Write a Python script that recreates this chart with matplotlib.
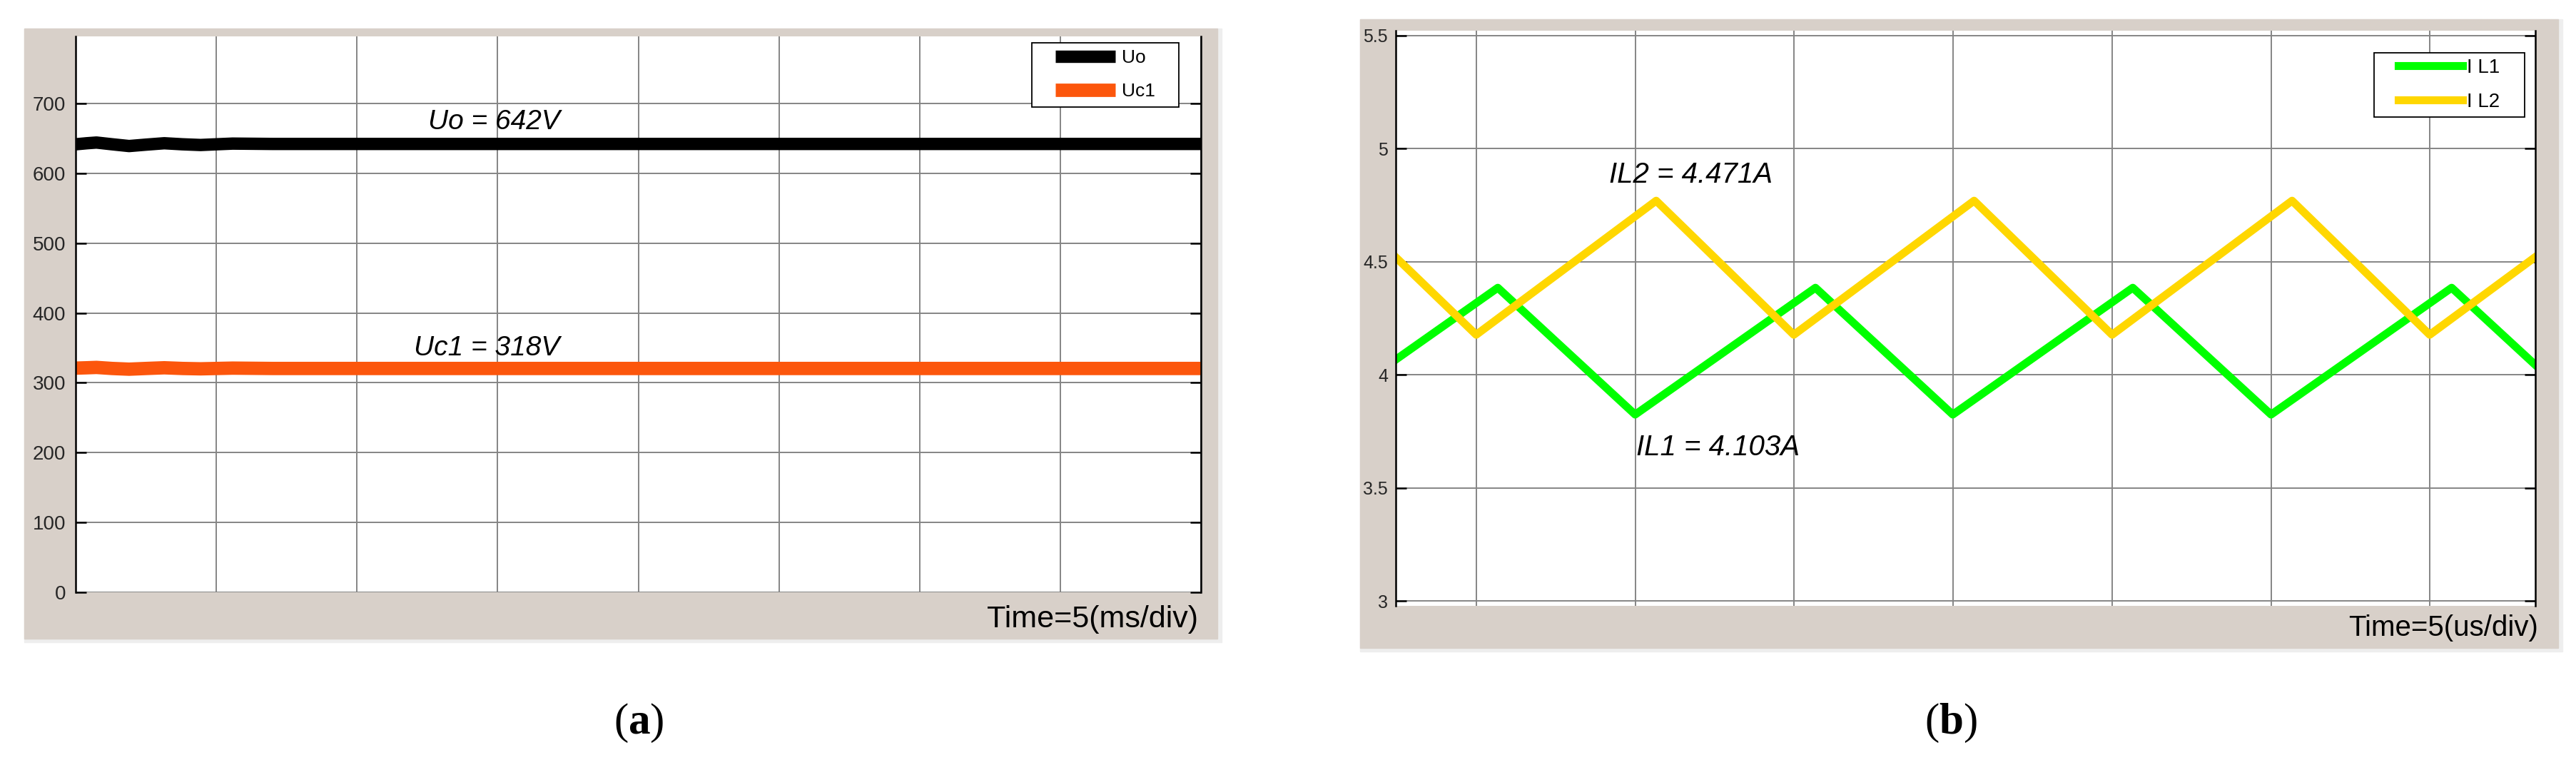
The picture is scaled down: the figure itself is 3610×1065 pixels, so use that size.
import numpy as np
import matplotlib
matplotlib.use('Agg')
import matplotlib.pyplot as plt
from matplotlib.patches import Rectangle
from matplotlib.lines import Line2D
from matplotlib.legend_handler import HandlerLine2D

plt.rcParams['font.family'] = 'Liberation Sans'
plt.rcParams['mathtext.fontset'] = 'custom'
plt.rcParams['mathtext.rm'] = 'Liberation Serif'
plt.rcParams['mathtext.bf'] = 'Liberation Serif:bold'

# (a) tensoes de saida e do capacitor, tempo em ms (5 ms/div)
t_a = [0, 0.4, 0.74, 1.3, 1.9, 2.5, 3.15, 3.8, 4.44, 5.0, 5.58, 7.0, 40]
uo = [641.5, 643, 644, 641.5, 639, 641, 643, 641.5, 640.5, 641.5, 642.5, 642, 642]
uc1 = [321, 321.5, 322, 320.5, 319.5, 320.5, 321.5, 320.5, 320, 320.5, 321, 320.5, 320.5]
yticks_a = [0, 100, 200, 300, 400, 500, 600, 700]
xgrid_a = [0, 5, 10, 15, 20, 25, 30, 35, 40]

# (b) correntes nos indutores, tempo em us (5 us/div)
t_il1 = [0, 3.21, 7.53, 13.2, 17.52, 23.18, 27.53, 33.21, 35.83]
il1 = [4.067, 4.385, 3.824, 4.385, 3.824, 4.385, 3.824, 4.385, 4.045]
t_il2 = [0, 2.53, 8.19, 12.52, 18.19, 22.53, 28.19, 32.52, 35.83]
il2 = [4.52, 4.177, 4.77, 4.177, 4.77, 4.177, 4.77, 4.177, 4.52]
yticks_b = [3, 3.5, 4, 4.5, 5, 5.5]
ylabels_b = ['3', '3.5', '4', '4.5', '5', '5.5']
xgrid_b = [2.53, 7.53, 12.53, 17.53, 22.53, 27.53, 32.53]

W, H = 3610, 1065
FRAME = '#D8D0C9'


def fx(px):
    return px / W


def fy(py):
    return 1 - py / H


def moldura(fig, x0, y0, x1, y1):
    # borda clara + fundo cinza tipo osciloscopio
    fig.patches.append(Rectangle((fx(x0), fy(y1 + 5)), (x1 + 6 - x0) / W, (y1 + 5 - y0) / H,
                                 transform=fig.transFigure, color='#EEEEEE', zorder=-2))
    fig.patches.append(Rectangle((fx(x0), fy(y1)), (x1 - x0) / W, (y1 - y0) / H,
                                 transform=fig.transFigure, color=FRAME, zorder=-1))


def estilo(ax, fs, pad):
    ax.set_facecolor('white')
    for s in ['top', 'bottom']:
        ax.spines[s].set_visible(False)
    for s in ['left', 'right']:
        ax.spines[s].set_linewidth(1.8)
        ax.spines[s].set_color('black')
    ax.tick_params(axis='y', direction='in', length=11, width=1.8, left=True, right=True,
                   labelcolor='#262626', labelsize=fs, pad=pad)
    ax.tick_params(axis='x', length=0, labelbottom=False)
    ax.grid(True, color='#858585', linewidth=1.4)
    ax.set_axisbelow(True)


fig = plt.figure(figsize=(W / 100, H / 100), dpi=100)

moldura(fig, 34, 40, 1706, 895)
moldura(fig, 1906, 27, 3585, 908)

# ---------- (a)
ax_a = fig.add_axes([fx(106), fy(830), (1683 - 106) / W, (830 - 51) / H])
l_uo, = ax_a.plot(t_a, uo, color='black', lw=12.5, solid_capstyle='butt', label='Uo')
l_uc, = ax_a.plot(t_a, uc1, color='#FC560C', lw=13.5, solid_capstyle='butt', label='Uc1')
ax_a.set_xlim(0, 40)
ax_a.set_ylim(0, 796)
ax_a.set_xticks(xgrid_a)
ax_a.set_yticks(yticks_a)
estilo(ax_a, 20, 10)
ax_a.text(12.53, 663.6, 'Uo = 642V', style='italic', fontsize=28)
ax_a.text(12.02, 339.5, 'Uc1 = 318V', style='italic', fontsize=28)
leg = ax_a.legend(handles=[l_uo, l_uc], loc='upper left', mode='expand',
                  bbox_to_anchor=(fx(1446), fy(145), 206 / W, 85 / H),
                  bbox_transform=fig.transFigure, borderaxespad=0, borderpad=0.36,
                  handlelength=4.08, handletextpad=0.34, labelspacing=0.86, fontsize=19,
                  fancybox=False, edgecolor='black', framealpha=1,
                  handler_map={Line2D: HandlerLine2D(xpad=0.9)})
leg.get_frame().set_linewidth(1.3)
fig.text(fx(1679), fy(879), 'Time=5(ms/div)', ha='right', va='baseline', fontsize=31)

# ---------- (b)
ax_b = fig.add_axes([fx(1956), fy(849), (3552.5 - 1956) / W, (849 - 43) / H])
l_1, = ax_b.plot(t_il1, il1, color='#00FF00', lw=8, solid_joinstyle='round', label='I L1')
l_2, = ax_b.plot(t_il2, il2, color='#FFD700', lw=8, solid_joinstyle='round', label='I L2')
ax_b.set_xlim(0, 35.83)
ax_b.set_ylim(2.978, 5.522)
ax_b.set_xticks(xgrid_b)
ax_b.set_yticks(yticks_b)
ax_b.set_yticklabels(ylabels_b)
estilo(ax_b, 18, 8)
ax_b.text(6.71, 4.85, 'IL2 = 4.471A', style='italic', fontsize=29)
ax_b.text(7.56, 3.644, 'IL1 = 4.103A', style='italic', fontsize=29)
leg = ax_b.legend(handles=[l_1, l_2], loc='upper left', mode='expand',
                  bbox_to_anchor=(fx(3327), fy(157), 211 / W, 83 / H),
                  bbox_transform=fig.transFigure, borderaxespad=0, borderpad=0.28,
                  handlelength=4.17, handletextpad=0.22, labelspacing=0.8, fontsize=20,
                  fancybox=False, edgecolor='black', framealpha=1,
                  handler_map={Line2D: HandlerLine2D(xpad=0.94)})
leg.get_frame().set_linewidth(1.3)
fig.text(fx(3557), fy(891), 'Time=5(us/div)', ha='right', va='baseline', fontsize=29)

# legendas das figuras
fig.text(fx(895), fy(1013), r'($\mathbf{a}$)', ha='center', va='center', fontsize=44,
         family='Liberation Serif')
fig.text(fx(2734), fy(1013), r'($\mathbf{b}$)', ha='center', va='center', fontsize=44,
         family='Liberation Serif')

plt.savefig('out.png', dpi=100)
plt.close(fig)
